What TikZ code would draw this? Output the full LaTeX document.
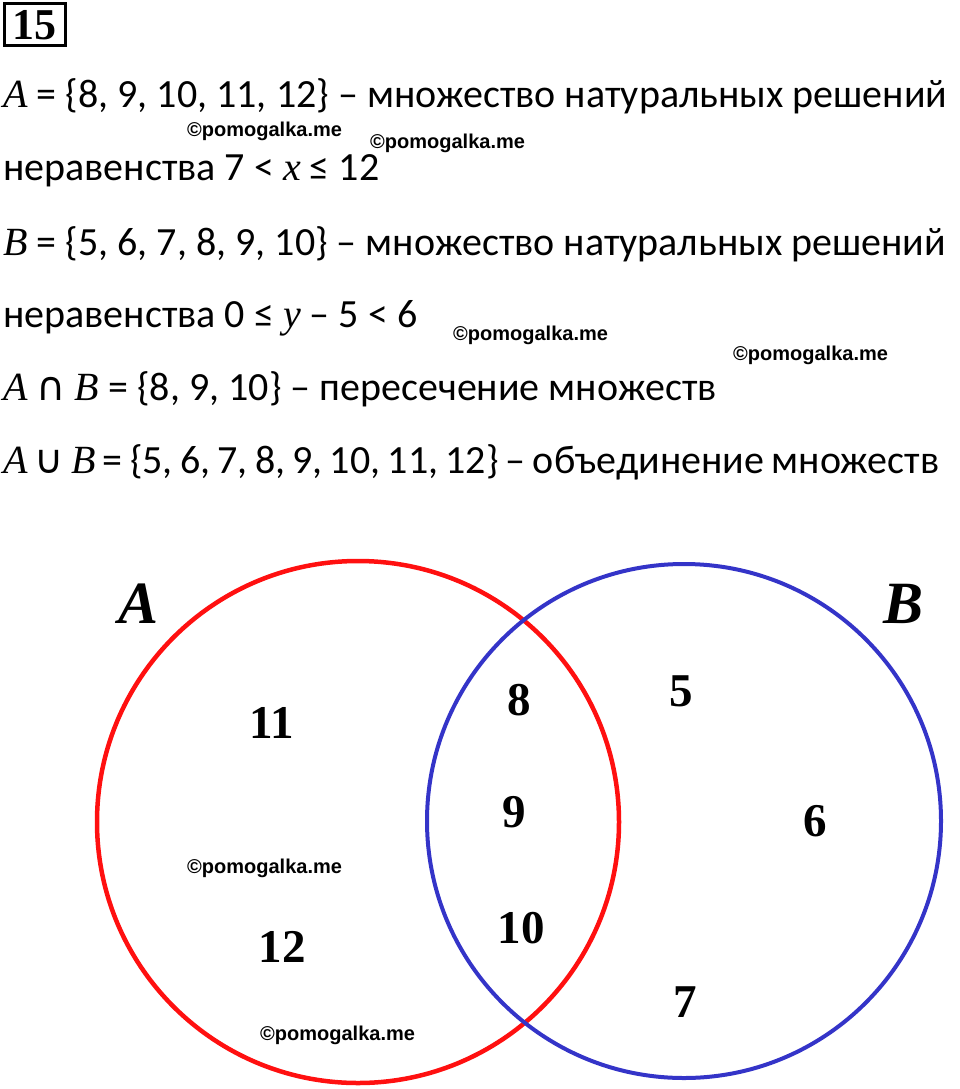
\documentclass[tikz,border=0pt]{standalone}
\usepackage{fontspec}
\setmainfont{Carlito}
\newfontfamily\varfont{Liberation Serif}
\newfontfamily\opsfont{DejaVu Sans}
\newfontfamily\markfont{Liberation Sans}
\usetikzlibrary{positioning}
\definecolor{setacol}{HTML}{FF1010}
\definecolor{setbcol}{HTML}{3434C8}
\tikzstyle{line} = [anchor=base west, inner sep=0pt, font=\fontsize{40}{48}\selectfont]
\tikzstyle{wmark} = [anchor=base west, inner sep=0pt, font=\markfont\bfseries\fontsize{20}{24}\selectfont]
\tikzstyle{elem} = [inner sep=0pt, font=\varfont\bfseries\fontsize{47}{56}\selectfont]
\tikzstyle{setname} = [inner sep=0pt, font=\varfont\bfseries\itshape\fontsize{60}{66}\selectfont]
\tikzstyle{numbox} = [draw, line width=3pt, minimum width=61pt, minimum height=42pt, inner sep=0pt, font=\varfont\bfseries\fontsize{44}{48}\selectfont]
\newcommand{\V}[1]{{\varfont\itshape #1}}
\newcommand{\op}[1]{{\opsfont #1}}

\begin{document}
\begin{tikzpicture}[x=1pt, y=-1pt]
\useasboundingbox (0,0) rectangle (960,1089);

%Task number
\node (num) [numbox] at (34.5,25) {15};

%Sets and their descriptions
\node (la) [line] at (3,108) {\V{A} = \{8, 9, 10, 11, 12\} – множество натуральных решений};
\node (lb) [line] at (3,180) {неравенства 7 < \V{x} ≤ 12};
\node (lc) [line] at (3,255) {\V{B} = \{5, 6, 7, 8, 9, 10\} – множество натуральных решений};
\node (ld) [line] at (3,327) {неравенства 0 ≤ \V{y} – 5 < 6};
\node (le) [line] at (3,400) {\V{A} \op{∩} \V{B} = \{8, 9, 10\} – пересечение множеств};
\node (lf) [line] at (3,473) {\spaceskip=7.2pt \V{A} \op{∪} \V{B} = \{5, 6, 7, 8, 9, 10, 11, 12\} – объединение множеств};

%Watermarks
\node (w1) [wmark] at (187,136) {©pomogalka.me};
\node (w2) [wmark] at (370,148) {©pomogalka.me};
\node (w3) [wmark] at (453,340) {©pomogalka.me};
\node (w4) [wmark] at (733,360) {©pomogalka.me};
\node (w5) [wmark] at (187,873) {©pomogalka.me};
\node (w6) [wmark] at (260,1040) {©pomogalka.me};

%Venn diagram
\draw [setacol, line width=4.5pt] (358,822) circle (261);
\draw [setbcol, line width=4pt] (684,821) circle (257);
\node (nameA) [setname] at (139,604) {A};
\node (nameB) [setname] at (903,604) {B};

%Elements of A only
\node (e11) [elem] at (272,723) {11};
\node (e12) [elem] at (282,947) {12};
%Elements of both
\node (e8) [elem] at (519,700) {8};
\node (e9) [elem] at (514,812) {9};
\node (e10) [elem] at (521,928) {10};
%Elements of B only
\node (e5) [elem] at (681,691) {5};
\node (e6) [elem] at (815,821) {6};
\node (e7) [elem] at (685,1002) {7};
\end{tikzpicture}
\end{document}
